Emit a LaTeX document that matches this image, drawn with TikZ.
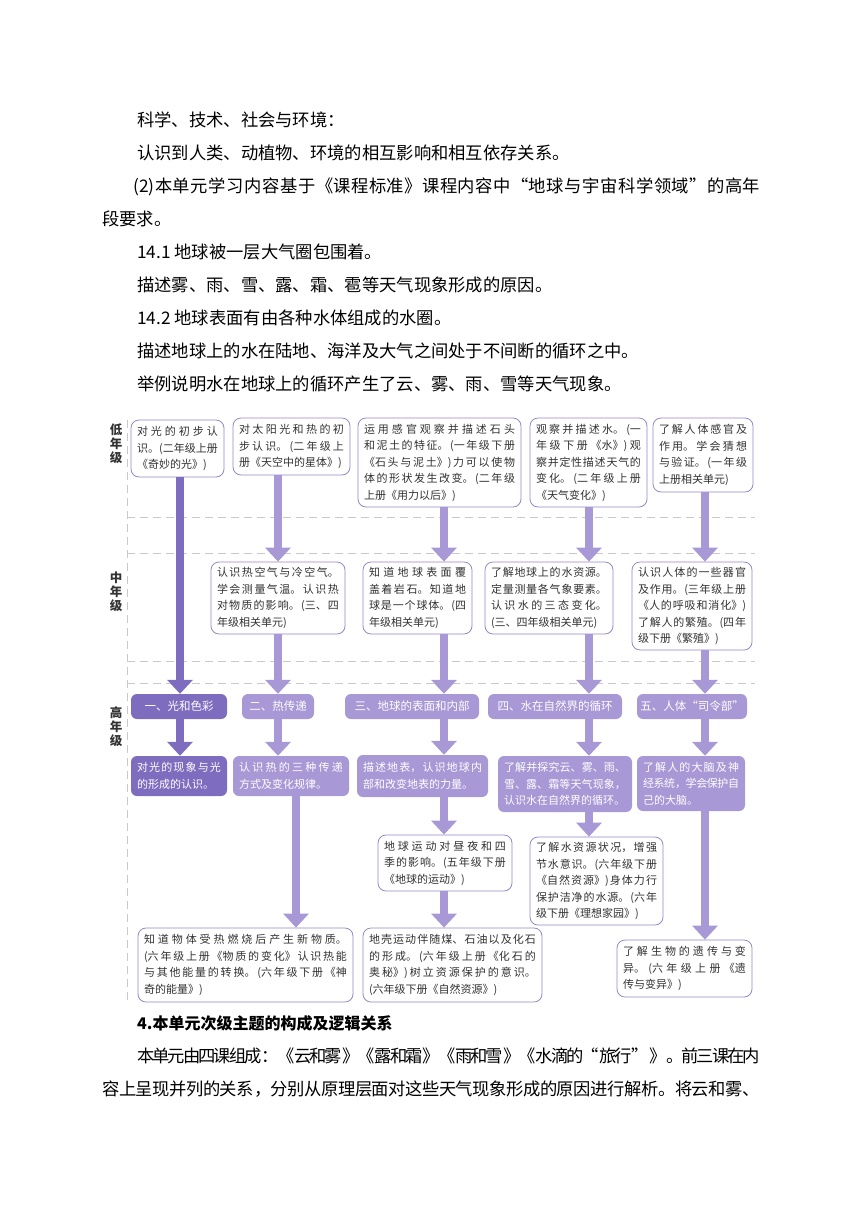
\documentclass[tikz,border=0pt]{standalone}
\usepackage{fontspec}
\setmainfont{Noto Sans CJK SC}
\usetikzlibrary{arrows.meta}
\XeTeXlinebreaklocale "zh"
\XeTeXlinebreakskip=0pt plus 4pt minus 3pt

\definecolor{darkpurple}{RGB}{126,108,190}
\definecolor{lightpurple}{RGB}{168,152,213}
\definecolor{boxline}{RGB}{150,135,200}
\definecolor{bandline}{RGB}{200,200,206}
\definecolor{boxtext}{RGB}{50,50,50}

\tikzset{
    bodytext/.style={anchor=west, inner sep=0pt, font=\fontsize{17.3}{33}\selectfont},
    bodypar/.style={anchor=north west, inner sep=0pt, text width=658pt, align=justify, font=\fontsize{17.3}{33}\selectfont},
    gradelabel/.style={inner sep=0pt, align=center, text=black!80, font=\bfseries\fontsize{12.5}{14}\selectfont},
    band/.style={draw=bandline, line width=1pt, dash pattern=on 8pt off 5pt},
    gradebox/.style={draw=boxline, line width=0.8pt, rounded corners=8pt, fill=white, inner sep=0pt,
        text=boxtext, align=justify, font=\fontsize{11}{16.5}\selectfont},
    unitbox/.style={rounded corners=6pt, inner sep=0pt, text=white, align=center, font=\fontsize{11.5}{16.5}\selectfont},
    goalbox/.style={rounded corners=6pt, inner sep=0pt, text=white, align=justify, font=\fontsize{11}{16.5}\selectfont},
    arrowdark/.style={draw=darkpurple, line width=8pt, -{Triangle[width=25pt,length=14pt]}},
    arrowlight/.style={draw=lightpurple, line width=8pt, -{Triangle[width=25pt,length=14pt]}}
}

\begin{document}
\begin{tikzpicture}[x=1pt, y=-1pt]
    \useasboundingbox (0,0) rectangle (860,1216);

    % text above the chart
    \node[bodytext] (t1) at (137,120) {科学、技术、社会与环境：};
    \node[bodytext] (t2) at (137,153) {认识到人类、动植物、环境的相互影响和相互依存关系。};
    \node[bodypar] (t3) at (102,177.3) {\hspace*{31pt}(2)本单元学习内容基于《课程标准》课程内容中“地球与宇宙科学领域”的高年\linebreak 段要求。};
    \node[bodytext] (t4) at (137,252) {14.1 地球被一层大气圈包围着。};
    \node[bodytext] (t5) at (137,285) {描述雾、雨、雪、露、霜、雹等天气现象形成的原因。};
    \node[bodytext] (t6) at (137,318) {14.2 地球表面有由各种水体组成的水圈。};
    \node[bodytext] (t7) at (137,351) {描述地球上的水在陆地、海洋及大气之间处于不间断的循环之中。};
    \node[bodytext] (t8) at (137,384) {举例说明水在地球上的循环产生了云、雾、雨、雪等天气现象。};

    % grade bands
    \foreach \y in {517,553,661,683}
        \draw[band] (127,\y) -- (755,\y);
    \draw[band] (127,420) -- (127,1000);
    \node[gradelabel] (low) at (116,444) {低\\年\\级};
    \node[gradelabel] (mid) at (116,592) {中\\年\\级};
    \node[gradelabel] (high) at (116,727) {高\\年\\级};

    % arrow columns
    \coordinate (c1) at (180,0);
    \coordinate (c2) at (278,0);
    \coordinate (c2b) at (296,0);
    \coordinate (c3) at (444,0);
    \coordinate (c4) at (589,0);
    \coordinate (c5) at (705,0);

    % low grades
    \node[gradebox, minimum width=93pt, minimum height=57pt, text width=81pt] (B1) at (177.5,448.5)
        {对光的初步认\linebreak 识。(二年级上册\linebreak 《奇妙的光》)};
    \node[gradebox, minimum width=117pt, minimum height=57pt, text width=105pt] (B2) at (291.5,446.5)
        {对太阳光和热的初\linebreak 步认识。(二年级上\linebreak 册《天空中的星体》)};
    \node[gradebox, minimum width=163pt, minimum height=89pt, text width=151pt] (B3) at (439.5,462.5)
        {运用感官观察并描述石头\linebreak 和泥土的特征。(一年级下册\linebreak 《石头与泥土》)力可以使物\linebreak 体的形状发生改变。(二年级\linebreak 上册《用力以后》)};
    \node[gradebox, minimum width=117pt, minimum height=89pt, text width=105pt] (B4) at (588.5,462.5)
        {观察并描述水。(一\linebreak 年级下册《水》)观\linebreak 察并定性描述天气的\linebreak 变化。(二年级上册\linebreak 《天气变化》)};
    \node[gradebox, minimum width=100pt, minimum height=74pt, text width=88pt] (B5) at (703,455)
        {了解人体感官及\linebreak 作用。学会猜想\linebreak 与验证。(一年级\linebreak 上册相关单元)};

    % middle grades
    \node[gradebox, minimum width=134pt, minimum height=72pt, text width=122pt] (M2) at (278,598)
        {认识热空气与冷空气。\linebreak 学会测量气温。认识热\linebreak 对物质的影响。(三、四\linebreak 年级相关单元)};
    \node[gradebox, minimum width=109pt, minimum height=72pt, text width=97pt] (M3) at (417.5,598)
        {知道地球表面覆\linebreak 盖着岩石。知道地\linebreak 球是一个球体。(四\linebreak 年级相关单元)};
    \node[gradebox, minimum width=128pt, minimum height=72pt, text width=116pt] (M4) at (549,598)
        {了解地球上的水资源。\linebreak 定量测量各气象要素。\linebreak 认识水的三态变化。\linebreak (三、四年级相关单元)};
    \node[gradebox, minimum width=120pt, minimum height=88pt, text width=108pt] (M5) at (692,606)
        {认识人体的一些器官\linebreak 及作用。(三年级上册\linebreak 《人的呼吸和消化》)\linebreak 了解人的繁殖。(四年\linebreak 级下册《繁殖》)};

    % high grades: units
    \node[unitbox, fill=darkpurple, minimum width=96pt, minimum height=25pt] (H1) at (179,706.5) {一、光和色彩};
    \node[unitbox, fill=lightpurple, minimum width=72pt, minimum height=25pt] (H2) at (278,706.5) {二、热传递};
    \node[unitbox, fill=lightpurple, minimum width=134pt, minimum height=25pt] (H3) at (412,706.5) {三、地球的表面和内部};
    \node[unitbox, fill=lightpurple, minimum width=134pt, minimum height=25pt] (H4) at (555,706.5) {四、水在自然界的循环};
    \node[unitbox, fill=lightpurple, minimum width=110pt, minimum height=25pt] (H5) at (692,706.5) {五、人体“司令部”};

    % high grades: goals
    \node[goalbox, fill=darkpurple, minimum width=96pt, minimum height=40pt, text width=84pt] (D1) at (179,776)
        {对光的现象与光\linebreak 的形成的认识。};
    \node[goalbox, fill=lightpurple, minimum width=116pt, minimum height=40pt, text width=104pt] (D2) at (291,776)
        {认识热的三种传递\linebreak 方式及变化规律。};
    \node[goalbox, fill=lightpurple, minimum width=131pt, minimum height=42pt, text width=119pt] (D3) at (422.5,776)
        {描述地表，认识地球内\linebreak 部和改变地表的力量。};
    \node[goalbox, fill=lightpurple, minimum width=134pt, minimum height=56pt, text width=122pt] (D4) at (565,784)
        {了解并探究云、雾、雨、\linebreak 雪、露、霜等天气现象，\linebreak 认识水在自然界的循环。};
    \node[goalbox, fill=lightpurple, minimum width=108pt, minimum height=55pt, text width=96pt] (D5) at (691,783.5)
        {了解人的大脑及神\linebreak 经系统，学会保护自\linebreak 己的大脑。};

    % later grades
    \node[gradebox, minimum width=134pt, minimum height=56pt, text width=122pt] (E3) at (445,863)
        {地球运动对昼夜和四\linebreak 季的影响。(五年级下册\linebreak 《地球的运动》)};
    \node[gradebox, minimum width=133pt, minimum height=88pt, text width=121pt] (E4) at (596.5,881)
        {了解水资源状况，增强\linebreak 节水意识。(六年级下册\linebreak 《自然资源》)身体力行\linebreak 保护洁净的水源。(六年\linebreak 级下册《理想家园》)};
    \node[gradebox, minimum width=215pt, minimum height=74pt, text width=203pt] (L2) at (245.5,965)
        {知道物体受热燃烧后产生新物质。\linebreak (六年级上册《物质的变化》认识热能\linebreak 与其他能量的转换。(六年级下册《神\linebreak 奇的能量》)};
    \node[gradebox, minimum width=179pt, minimum height=74pt, text width=167pt] (F3) at (452.5,965)
        {地壳运动伴随煤、石油以及化石\linebreak 的形成。(六年级上册《化石的\linebreak 奥秘》)树立资源保护的意识。\linebreak (六年级下册《自然资源》)};
    \node[gradebox, minimum width=135pt, minimum height=57pt, text width=123pt] (F5) at (684.5,968.5)
        {了解生物的遗传与变\linebreak 异。(六年级上册《遗\linebreak 传与变异》)};

    % arrows
    \draw[arrowdark] (B1.south -| c1) -- (H1.north -| c1);
    \draw[arrowdark] (H1.south -| c1) -- (D1.north -| c1);
    \foreach \a/\b/\c in {B2/M2/c2, M2/H2/c2, H2/D2/c2, D2/L2/c2b,
            B3/M3/c3, M3/H3/c3, H3/D3/c3, D3/E3/c3, E3/F3/c3,
            B4/M4/c4, M4/H4/c4, H4/D4/c4, D4/E4/c4,
            B5/M5/c5, M5/H5/c5, H5/D5/c5, D5/F5/c5}
        \draw[arrowlight] (\a.south -| \c) -- (\b.north -| \c);

    % text below the chart
    \node[bodytext, font=\bfseries\fontsize{16}{33}\selectfont] (h4) at (137,1023) {4.本单元次级主题的构成及逻辑关系};
    \node[bodypar] (t9) at (102,1047.3) {\parfillskip=0pt\hspace*{35pt}本单元由四课组成：《云和雾》《露和霜》《雨和雪》《水滴的“旅行”》。前三课在内\linebreak 容上呈现并列的关系，分别从原理层面对这些天气现象形成的原因进行解析。将云和雾、};
\end{tikzpicture}
\end{document}
